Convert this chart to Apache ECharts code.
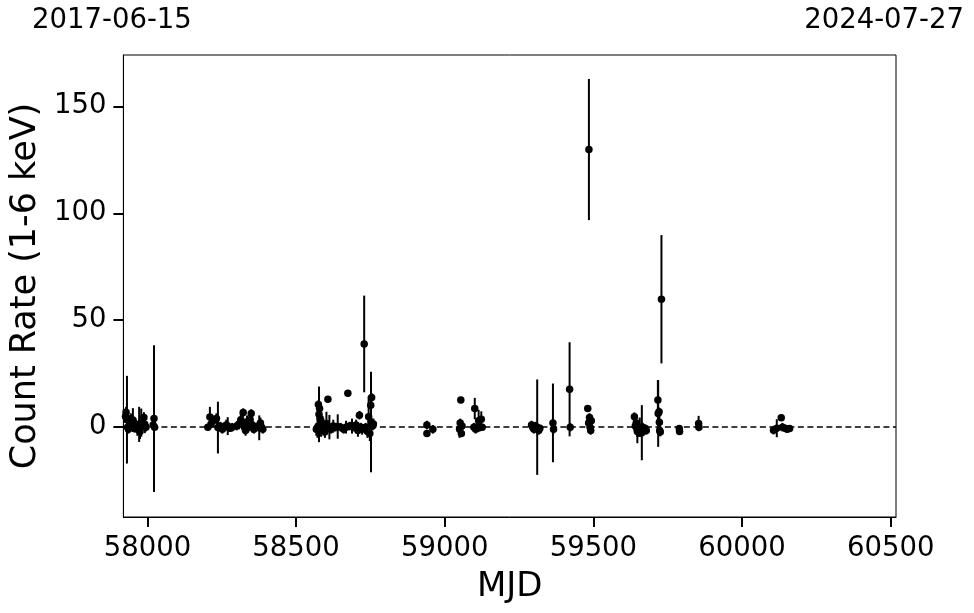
<!DOCTYPE html>
<html>
<head>
<meta charset="utf-8">
<script src="https://cdn.jsdelivr.net/npm/echarts@6/dist/echarts.min.js"></script>
<style>
html,body{margin:0;padding:0;background:#fff;}
#chart{width:974px;height:613px;}
</style>
</head>
<body>
<div id="chart"></div>
<script>
// Observation epochs (MJD)
const mjd = [
  57926,57928,57931,57933,57936,57940,57944,57948,57951,57956,57960,57966,57972,57975,57979,57983,57988,57991,57995,58019,58022,58024,
  58203,58210,58214,58220,58232,58237,58245,58252,58258,58265,58270,58278,58285,58300,58308,58314,58318,58322,58326,58330,58335,58340,58345,58349,58353,58358,58372,58376,58380,58384,58388,
  58568,58572,58575,58577,58579,58581,58584,58588,58592,58597,58602,58607,58612,58618,58625,58632,58640,58650,58660,58668,58674,58680,58688,58695,58702,58708,58713,58718,58722,58729,58734,58740,58744,58748,58751,58752,58754,58757,58760,
  58940,58940,58960,
  59050,59052,59054,59056,59058,59098,59101,59104,59108,59114,59118,59123,59126,
  59292,59296,59300,59305,59311,59316,59320,59364,59366,59420,59422,
  59481,59484,59485,59487,59489,59491,59493,
  59638,59641,59644,59647,59648,59650,59653,59656,59660,59663,59666,59670,59674,59678,
  59717,59718,59721,59722,59723,59725,59729,
  59789,59790,59854,59855,
  60106,60117,60132,60136,60145,60152,60160
];
// Count rate (1-6 keV)
const rate = [
  5.0,7.0,3.5,0.0,-1.0,2.5,4.0,0.5,3.3,-0.5,1.5,-1.0,1.3,-2.0,2.1,0.5,4.5,1.4,0.0,1.0,4.0,0.0,
  0.0,4.8,1.5,3.0,4.0,-0.2,0.5,-1.0,0.0,1.0,0.5,-0.5,0.0,0.5,1.5,3.5,2.0,6.8,0.0,-1.5,2.5,0.0,3.5,6.4,1.0,-1.0,0.5,-0.3,2.0,0.0,-1.0,
  -1.0,0.0,10.6,6.0,8.7,4.0,-1.5,1.0,0.0,-2.0,1.7,13.1,0.0,-1.0,0.5,0.0,0.3,0.0,-1.0,0.0,15.8,0.5,0.5,0.0,1.0,-1.5,5.6,0.0,-1.0,38.9,0.0,-2.0,4.9,-3.0,10.3,2.4,13.9,0.5,1.5,
  1.0,-3.0,-1.0,
  -1.0,2.0,12.7,-3.0,0.5,0.0,8.7,-1.0,0.0,3.0,0.0,3.7,0.0,
  1.0,0.0,-1.0,0.5,0.0,-1.5,-0.5,2.0,-1.0,17.7,0.0,
  8.7,2.0,129.8,4.5,0.0,-1.5,3.0,
  4.9,0.5,2.0,-1.0,-2.0,0.0,-2.0,0.0,-1.5,-2.6,0.0,-1.0,-0.5,-1.5,
  12.7,6.4,7.2,2.3,-1.6,-2.3,59.8,
  -0.6,-2.0,1.7,0.0,
  -1.4,-0.5,4.4,0.0,-0.5,-1.0,-0.6
];
// 1-sigma errors
const err = [
  3.0,2.5,20.5,1.5,2.0,3.0,2.5,2.0,5.6,2.0,2.5,3.0,8.2,3.5,6.6,2.0,2.5,4.2,2.0,2.0,34.3,1.5,
  1.5,4.7,2.0,2.5,2.5,12.1,2.0,2.0,1.5,2.5,4.2,1.5,2.0,2.0,2.5,3.0,2.5,2.0,3.0,2.5,3.0,2.0,3.0,2.0,3.5,2.0,2.0,5.8,2.5,1.5,2.0,
  3.0,5.0,2.0,13.0,2.0,3.0,3.0,2.5,4.0,3.0,5.5,1.5,5.7,2.0,3.0,2.0,5.7,2.0,2.0,3.0,1.5,2.0,3.5,2.0,2.5,3.0,2.0,2.0,2.5,22.6,2.0,3.0,9.5,3.5,2.0,23.5,2.0,2.0,2.5,
  2.0,1.5,2.0,
  4.0,2.0,1.5,1.5,2.0,2.0,5.0,2.0,2.0,5.1,2.0,3.7,1.5,
  2.0,1.5,2.0,2.0,22.3,2.0,1.5,18.4,2.0,22.0,2.0,
  1.5,2.5,33.0,2.0,3.0,2.0,2.5,
  2.0,2.0,2.5,3.5,5.5,2.0,2.5,4.5,3.0,12.9,2.0,2.0,1.5,2.0,
  9.3,15.6,2.0,2.5,2.5,2.0,30.0,
  1.5,1.5,3.6,1.5,
  2.0,4.2,1.5,2.0,1.5,1.5,1.5
];
const xTicks = [58000, 58500, 59000, 59500, 60000, 60500];
const yTicks = [0, 50, 100, 150];
const dateStart = '2017-06-15';
const dateEnd = '2024-07-27';

const pts = mjd.map((m, i) => [m, rate[i], err[i]]);
const FONT = 'DejaVu Sans';

const chart = echarts.init(document.getElementById('chart'), null, {renderer: 'canvas'});
chart.setOption({
  backgroundColor: '#ffffff',
  animation: false,
  grid: {left: 122, right: 78, top: 55, bottom: 96, show: true, borderColor: '#000', borderWidth: 1, backgroundColor: 'transparent'},
  graphic: [
    {type: 'text', left: 32, top: 7, style: {text: dateStart, font: '27.5px "DejaVu Sans"', fill: '#000'}},
    {type: 'text', right: 10, top: 7, style: {text: dateEnd, font: '27.5px "DejaVu Sans"', fill: '#000'}}
  ],
  xAxis: {
    type: 'value', min: 57919, max: 60518,
    name: 'MJD', nameLocation: 'middle', nameGap: 53,
    nameTextStyle: {fontFamily: FONT, fontSize: 34, color: '#000'},
    axisLine: {show: true, onZero: false, lineStyle: {color: '#000', width: 1}},
    axisTick: {show: true, inside: false, length: 10, customValues: xTicks, lineStyle: {color: '#000', width: 2}},
    axisLabel: {show: true, margin: 18, customValues: xTicks, fontFamily: FONT, fontSize: 27.5, color: '#000',
                formatter: function (v) { return String(v); }},
    splitLine: {show: false}
  },
  yAxis: {
    type: 'value', min: -42, max: 174,
    name: 'Count Rate (1-6 keV)', nameLocation: 'middle', nameGap: 78, nameRotate: 90,
    nameTextStyle: {fontFamily: FONT, fontSize: 35, color: '#000'},
    axisLine: {show: true, onZero: false, lineStyle: {color: '#000', width: 1}},
    axisTick: {show: true, inside: false, length: 10, customValues: yTicks, lineStyle: {color: '#000', width: 2}},
    axisLabel: {show: true, margin: 17, customValues: yTicks, fontFamily: FONT, fontSize: 27.5, color: '#000',
                formatter: function (v) { return String(v); }},
    splitLine: {show: false}
  },
  series: [
    {
      type: 'custom',
      data: pts,
      encode: {x: 0, y: 1},
      z: 2,
      renderItem: function (params, api) {
        const x = api.value(0), y = api.value(1), e = api.value(2);
        const p1 = api.coord([x, y - e]);
        const p2 = api.coord([x, y + e]);
        return {type: 'line', shape: {x1: p1[0], y1: p1[1], x2: p2[0], y2: p2[1]},
                style: {stroke: '#000', lineWidth: 2}};
      },
      markLine: {
        silent: true, symbol: 'none', label: {show: false},
        lineStyle: {color: '#000', type: [6, 3.5], width: 1.5},
        data: [{yAxis: 0}]
      }
    },
    {
      type: 'scatter',
      data: pts.map(p => [p[0], p[1]]),
      symbol: 'circle', symbolSize: 7.5, z: 3,
      itemStyle: {color: '#000', borderWidth: 0, opacity: 1}
    }
  ]
});
</script>
</body>
</html>
